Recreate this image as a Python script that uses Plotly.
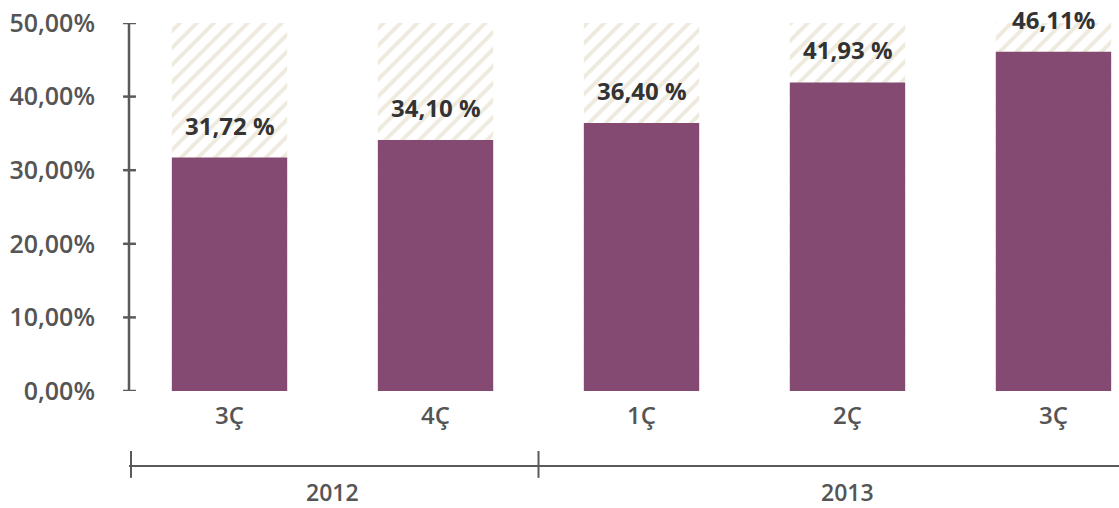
import plotly.graph_objects as go

quarters = ["3Ç", "4Ç", "1Ç", "2Ç", "3Ç"]
values = [31.72, 34.10, 36.40, 41.93, 46.11]
value_labels = ["31,72 %", "34,10 %", "36,40 %", "41,93 %", "46,11%"]
ceiling = [50, 50, 50, 50, 50]
years = ["2012", "2013"]
year_centers = [0.5, 3.0]
year_dividers = [1.5]
ytick_vals = [0, 10, 20, 30, 40, 50]
ytick_text = ["0,00%", "10,00%", "20,00%", "30,00%", "40,00%", "50,00%"]

PURPLE = "#844a71"
HATCH = "#ddd5bd"
AXIS = "#5a5a5a"
TICKFONT = dict(family="Open Sans", size=24, color="#555555", weight=600)
YTICKFONT = dict(family="Open Sans", size=25, color="#555555", weight=600)

xs = list(range(len(quarters)))

fig = go.Figure()
fig.add_trace(go.Bar(
    x=xs, y=ceiling, width=0.56,
    marker=dict(color="white", line=dict(width=0),
                pattern=dict(shape="/", fgcolor=HATCH, bgcolor="white",
                             size=12, solidity=0.33)),
    hoverinfo="skip", showlegend=False,
))
fig.add_trace(go.Bar(
    x=xs, y=values, width=0.56,
    marker=dict(color=PURPLE, line=dict(width=0)),
    showlegend=False,
))

for x, v, t in zip(xs, values, value_labels):
    fig.add_annotation(x=x, y=v, text=t, showarrow=False, yanchor="bottom",
                       yshift=14,
                       font=dict(family="Open Sans", size=24, color="#333333", weight=700))

# y axis line with crossing ticks
fig.add_shape(type="line", xref="x domain", yref="y", x0=0, x1=0, y0=0, y1=50,
              line=dict(color=AXIS, width=2.5))
for v in ytick_vals:
    fig.add_shape(type="line", xref="x domain", yref="y", x0=-0.006, x1=0.007,
                  y0=v, y1=v, line=dict(color=AXIS, width=2.5))

# year group axis
fig.add_shape(type="line", xref="x domain", yref="y domain", x0=0, x1=1,
              y0=-0.2038, y1=-0.2038, line=dict(color=AXIS, width=2))
fig.add_shape(type="line", xref="x domain", yref="y domain", x0=0.002, x1=0.002,
              y0=-0.163, y1=-0.236, line=dict(color=AXIS, width=2))
for d in year_dividers:
    fig.add_shape(type="line", xref="x", yref="y domain", x0=d, x1=d,
                  y0=-0.163, y1=-0.236, line=dict(color=AXIS, width=2))
for yc, yl in zip(year_centers, years):
    fig.add_annotation(x=yc, xref="x", y=-0.2745, yref="y domain", text=yl,
                       showarrow=False, yanchor="middle",
                       font=dict(family="Open Sans", size=23, color="#555555", weight=600))

fig.update_layout(
    width=1119, height=508,
    margin=dict(l=129, r=0, t=23, b=117),
    paper_bgcolor="white", plot_bgcolor="white",
    barmode="overlay",
    xaxis=dict(range=[-0.488, 4.318], tickvals=xs, ticktext=quarters,
               showgrid=False, zeroline=False, showline=False, ticks="",
               tickfont=TICKFONT, ticklabelstandoff=8, automargin=False),
    yaxis=dict(range=[0, 50], tickvals=ytick_vals, ticktext=ytick_text,
               showgrid=False, zeroline=False, showline=False, ticks="",
               tickfont=YTICKFONT, ticklabelstandoff=33,
               ticklabeloverflow="allow", automargin=False),
)

fig.write_html("out.html",
               config={"displayModeBar": False},
               post_script="document.body.style.margin='0';document.body.style.overflow='hidden';")
